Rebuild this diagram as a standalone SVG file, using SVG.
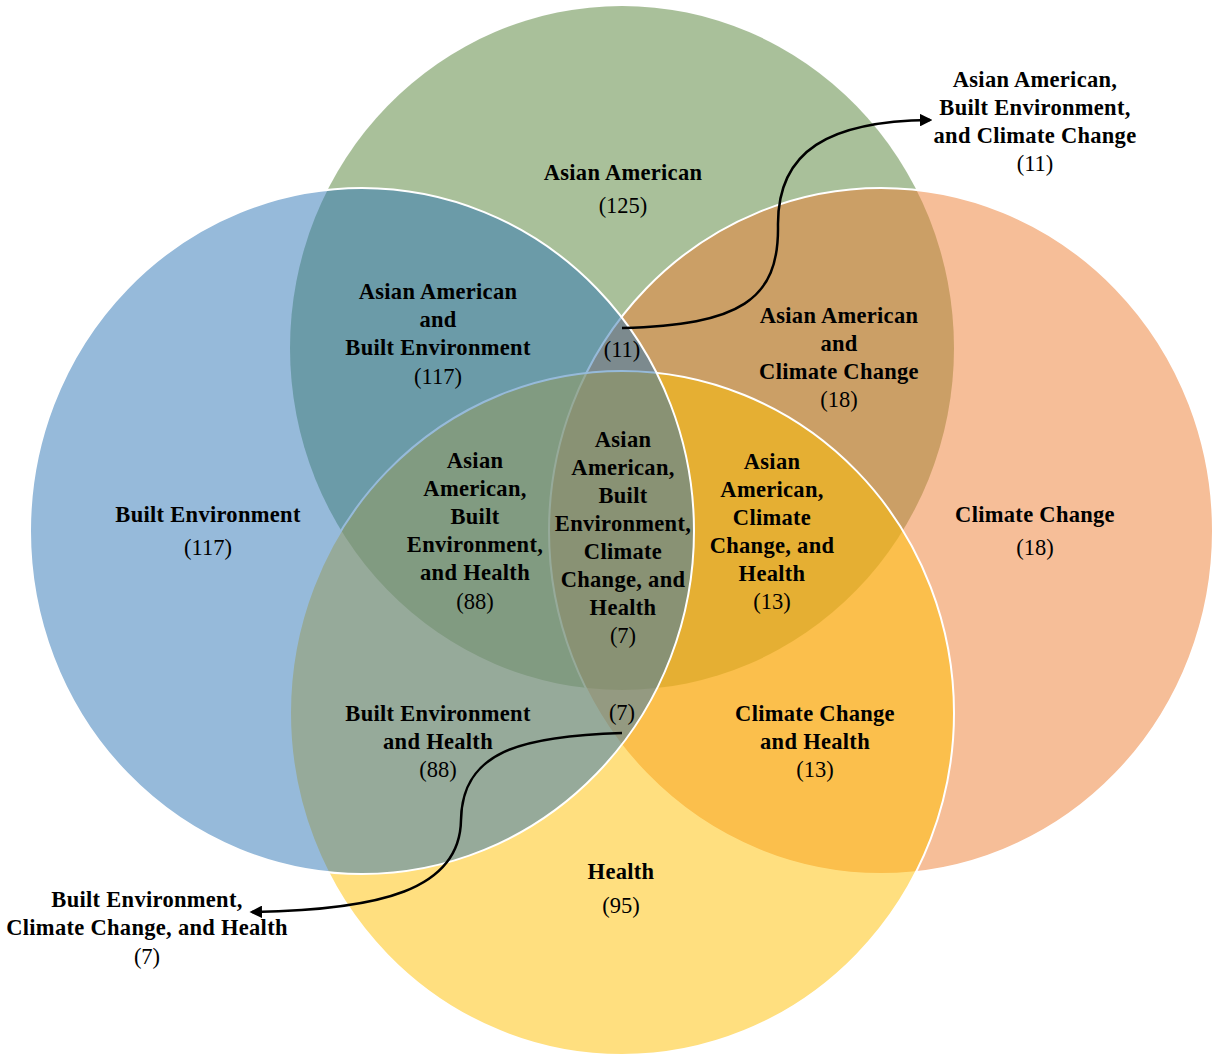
<svg xmlns="http://www.w3.org/2000/svg" width="1214" height="1057" viewBox="0 0 1214 1057">
<style>
.set{stroke:#ffffff;stroke-width:2;fill-opacity:0.5}
.t{font-family:"Liberation Serif","Times New Roman",serif;font-size:22.5px;font-weight:bold;text-anchor:middle;fill:#000;letter-spacing:0.3px}
.n{font-family:"Liberation Serif","Times New Roman",serif;font-size:22.5px;text-anchor:middle;fill:#000}
.conn{fill:none;stroke:#000;stroke-width:2.5}
</style>
<defs>
<marker id="arr" viewBox="0 0 10 10" refX="8" refY="5" markerWidth="5" markerHeight="5" orient="auto" markerUnits="strokeWidth">
<path d="M0,0 L10,5 L0,10 z" fill="#000"/>
</marker>
</defs>
<rect width="1214" height="1057" fill="#ffffff"/>
<g id="shapes">
<ellipse id="circle-asian-american" cx="622" cy="348" rx="332" ry="342" fill="#548235" fill-opacity="0.5"/>
<ellipse id="circle-climate-change" class="set" cx="881" cy="531" rx="332" ry="343" fill="#ED7D31"/>
<ellipse id="circle-health" class="set" cx="622" cy="713" rx="332" ry="342" fill="#FFC000"/>
<ellipse id="circle-built-environment" class="set" cx="362" cy="531" rx="332" ry="343" fill="#2E75B6"/>
</g>
<g id="connectors">
<path class="conn" d="M622,328 C740,325 779,300 778,226 C777,150 830,121 930,120" marker-end="url(#arr)"/>
<path class="conn" d="M622,733 C520,736 462,752 461,820 C460,890 380,910 252,912" marker-end="url(#arr)"/>
</g>
<g id="node-asian-american">
<text class="t" x="623" y="180">Asian American</text>
<text class="n" x="623" y="213">(125)</text>
</g>
<g id="node-built-environment">
<text class="t" x="208" y="522">Built Environment</text>
<text class="n" x="208" y="555">(117)</text>
</g>
<g id="node-climate-change">
<text class="t" x="1035" y="522">Climate Change</text>
<text class="n" x="1035" y="555">(18)</text>
</g>
<g id="node-health">
<text class="t" x="621" y="879">Health</text>
<text class="n" x="621" y="913">(95)</text>
</g>
<g id="node-aa-be">
<text class="t" x="438" y="299">Asian American</text>
<text class="t" x="438" y="327">and</text>
<text class="t" x="438" y="355">Built Environment</text>
<text class="n" x="438" y="384">(117)</text>
</g>
<g id="node-aa-cc">
<text class="t" x="839" y="323">Asian American</text>
<text class="t" x="839" y="351">and</text>
<text class="t" x="839" y="379">Climate Change</text>
<text class="n" x="839" y="407">(18)</text>
</g>
<g id="node-aa-be-cc">
<text class="n" x="622" y="357">(11)</text>
</g>
<g id="node-aa-be-h">
<text class="t" x="475" y="468">Asian</text>
<text class="t" x="475" y="496">American,</text>
<text class="t" x="475" y="524">Built</text>
<text class="t" x="475" y="552">Environment,</text>
<text class="t" x="475" y="580">and Health</text>
<text class="n" x="475" y="609">(88)</text>
</g>
<g id="node-all">
<text class="t" x="623" y="447">Asian</text>
<text class="t" x="623" y="475">American,</text>
<text class="t" x="623" y="503">Built</text>
<text class="t" x="623" y="531">Environment,</text>
<text class="t" x="623" y="559">Climate</text>
<text class="t" x="623" y="587">Change, and</text>
<text class="t" x="623" y="615">Health</text>
<text class="n" x="623" y="643">(7)</text>
</g>
<g id="node-aa-cc-h">
<text class="t" x="772" y="469">Asian</text>
<text class="t" x="772" y="497">American,</text>
<text class="t" x="772" y="525">Climate</text>
<text class="t" x="772" y="553">Change, and</text>
<text class="t" x="772" y="581">Health</text>
<text class="n" x="772" y="609">(13)</text>
</g>
<g id="node-be-cc-h">
<text class="n" x="622" y="720">(7)</text>
</g>
<g id="node-be-h">
<text class="t" x="438" y="721">Built Environment</text>
<text class="t" x="438" y="749">and Health</text>
<text class="n" x="438" y="777">(88)</text>
</g>
<g id="node-cc-h">
<text class="t" x="815" y="721">Climate Change</text>
<text class="t" x="815" y="749">and Health</text>
<text class="n" x="815" y="777">(13)</text>
</g>
<g id="label-aa-be-cc">
<text class="t" x="1035" y="87">Asian American,</text>
<text class="t" x="1035" y="115">Built Environment,</text>
<text class="t" x="1035" y="143">and Climate Change</text>
<text class="n" x="1035" y="171">(11)</text>
</g>
<g id="label-be-cc-h">
<text class="t" x="147" y="907">Built Environment,</text>
<text class="t" x="147" y="935">Climate Change, and Health</text>
<text class="n" x="147" y="964">(7)</text>
</g>
</svg>
